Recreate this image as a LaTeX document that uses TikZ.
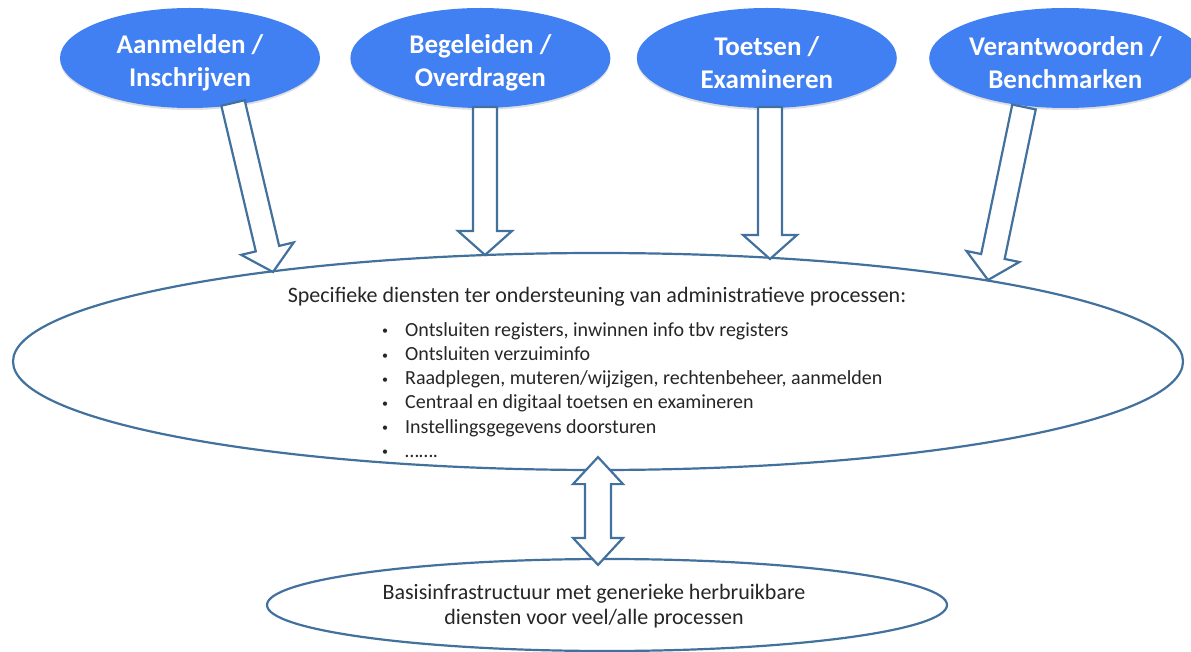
\documentclass[tikz,border=0pt]{standalone}
\usepackage{fontspec}
\setmainfont{Carlito}
\usetikzlibrary{shapes.geometric,positioning,calc,shadows}
\definecolor{procblue}{HTML}{4180F2}
\definecolor{lineblue}{HTML}{41719C}
\definecolor{tekstgrijs}{HTML}{262626}
\tikzset{
    proces/.style = {
        ellipse,
        fill = procblue,
        text = white,
        font = \fontsize{27}{33}\selectfont\bfseries,
        align = center,
        text height = 62pt,
        minimum width = 260pt,
        minimum height = 100pt,
        inner sep = 0pt,
        drop shadow = {shadow xshift=0pt, shadow yshift=-2pt, opacity=0.25}
    },
    laag/.style = {
        ellipse,
        draw = lineblue,
        line width = 2.2pt,
        fill = white,
        inner sep = 0pt
    },
    blokpijl/.style = {
        draw = lineblue,
        line width = 2.2pt,
        fill = white,
        line join = miter
    },
    tekst/.style = {
        text = tekstgrijs,
        font = \fontsize{20}{24.2}\selectfont,
        inner sep = 0pt
    },
    kop/.style = {
        tekst,
        font = \fontsize{22}{25}\selectfont
    }
}
\newcommand{\opsom}{\makebox[23pt][l]{\raisebox{1.5pt}{\fontsize{12}{12}\selectfont •}}}
% #1 = staart, #2 = punt
\newcommand{\blokpijl}[2]{%
    \coordinate (#2-basis) at ($(#2)!24pt!(#1)$);
    \draw[blokpijl] ($(#1)!12pt!90:(#2)$) -- ($(#2-basis)!12pt!90:(#2)$)
        -- ($(#2-basis)!27pt!90:(#2)$) -- (#2)
        -- ($(#2-basis)!27pt!-90:(#2)$) -- ($(#2-basis)!12pt!-90:(#2)$)
        -- ($(#1)!12pt!-90:(#2)$) -- cycle;
}
\newcommand{\dubbelpijl}[2]{%
    \coordinate (#1-basis) at ($(#1)!27pt!(#2)$);
    \coordinate (#2-basis) at ($(#2)!27pt!(#1)$);
    \draw[blokpijl] (#1) -- ($(#1-basis)!25pt!90:(#2)$) -- ($(#1-basis)!13pt!90:(#2)$)
        -- ($(#2-basis)!13pt!-90:(#1)$) -- ($(#2-basis)!25pt!-90:(#1)$) -- (#2)
        -- ($(#2-basis)!25pt!90:(#1)$) -- ($(#2-basis)!13pt!90:(#1)$)
        -- ($(#1-basis)!13pt!-90:(#2)$) -- ($(#1-basis)!25pt!-90:(#2)$) -- cycle;
}

\begin{document}
\begin{tikzpicture}[x=1pt, y=-1pt]
    \useasboundingbox (0,0) rectangle (1191,652);
%processen
    \node (proc1) [proces] at (190,58) {Aanmelden /\\Inschrijven};
    \node (proc2) [proces, right = 30pt of proc1] {Begeleiden /\\Overdragen};
    \node (proc3) [proces, right = 26pt of proc2] {Toetsen /\\Examineren};
    \node (proc4) [proces, right = 32pt of proc3] {Verantwoorden /\\Benchmarken};

%specifieke diensten
    \node (diensten) [laag, minimum width = 1170pt, minimum height = 217pt] at (598,361.5) {};
    \node (kop) [kop] at (597,297) {Specifieke diensten ter ondersteuning van administratieve processen:};
    \node (lijst) [tekst, anchor = west] at (382,392) {\begin{tabular}{@{}l@{}l@{}}
        \opsom & Ontsluiten registers, inwinnen info tbv registers\\
        \opsom & Ontsluiten verzuiminfo\\
        \opsom & Raadplegen, muteren/wijzigen, rechtenbeheer, aanmelden\\
        \opsom & Centraal en digitaal toetsen en examineren\\
        \opsom & Instellingsgegevens doorsturen\\
        \opsom & …….
    \end{tabular}};

%basisinfrastructuur
    \node (basis) [laag, minimum width = 680pt, minimum height = 92pt] at (607,605) {};
    \node (basistekst) [kop, align = center] at (594,606) {Basisinfrastructuur met generieke herbruikbare\\diensten voor veel/alle processen};

%pijlen
    \coordinate (staart1) at (233,103);
    \coordinate (staart2) at (485,107);
    \coordinate (staart3) at (770,107);
    \coordinate (staart4) at (1024,107);
    \coordinate (punt1) at (273,272);
    \coordinate (punt2) at (485,255);
    \coordinate (punt3) at (770,259);
    \coordinate (punt4) at (988,280);
    \blokpijl{staart1}{punt1}
    \blokpijl{staart2}{punt2}
    \blokpijl{staart3}{punt3}
    \blokpijl{staart4}{punt4}

    \coordinate (boven) at ([yshift=14pt]diensten.south);
    \coordinate (onder) at ([yshift=-7pt]boven |- basis.north);
    \dubbelpijl{boven}{onder}
\end{tikzpicture}
\end{document}
